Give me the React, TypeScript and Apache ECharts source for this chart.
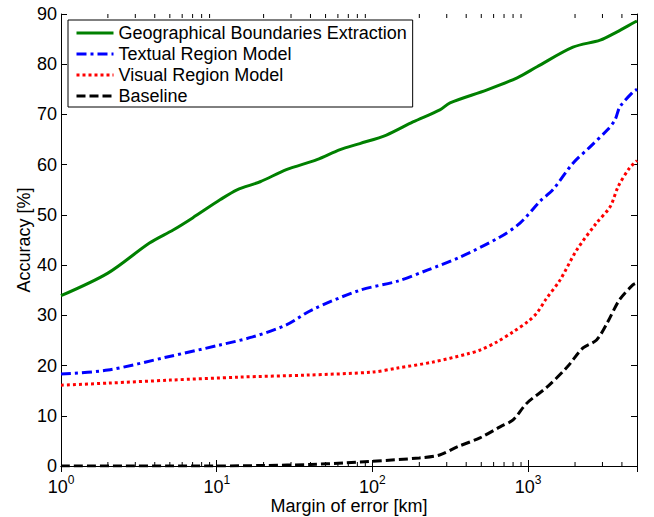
import React, { useEffect, useRef } from "react";
import * as echarts from "echarts";

const seriesNames = [
  "Geographical Boundaries Extraction",
  "Textual Region Model",
  "Visual Region Model",
  "Baseline",
];

const geoX = [1, 2, 3.7, 5.25, 7, 10.5, 13.5, 19, 28, 44, 62, 83, 123, 182, 271, 315, 545, 850, 1140, 1940, 2900, 3700, 4850, 5000];
const geoY = [33.9, 38.4, 44.4, 47, 49.4, 53, 55, 56.6, 59, 61, 63, 64.2, 65.9, 68.5, 70.9, 72.3, 74.9, 77.3, 79.5, 83.4, 84.8, 86.4, 88.4, 88.6];

const textX = [1, 2, 4.8, 10.5, 17, 28, 41, 83, 145, 225, 365, 660, 890, 1190, 1440, 1940, 2490, 3220, 3610, 3880, 4720, 5000];
const textY = [18.3, 19.1, 21.7, 24.1, 25.7, 28.1, 31.1, 35, 36.8, 39, 41.6, 45.6, 48.4, 52.7, 55, 60.3, 63.5, 66.9, 68.9, 71.5, 74.5, 75];

const visX = [1, 2, 5, 14, 38, 100, 145, 245, 405, 493, 630, 800, 1000, 1140, 1300, 1600, 2050, 2750, 3360, 3780, 4470, 5000];
const visY = [16.1, 16.5, 17.1, 17.7, 18.1, 18.7, 19.5, 20.7, 22.3, 23.1, 24.7, 26.7, 28.8, 30.5, 33.2, 37, 43, 48.4, 51.6, 55.6, 59.3, 60.8];

const baseX = [1, 10, 20, 40, 65, 107, 200, 270, 350, 490, 660, 800, 980, 1320, 1780, 2250, 2750, 3220, 3860, 4720, 5000];
const baseY = [0, 0, 0.1, 0.3, 0.6, 1.0, 1.6, 2.2, 3.8, 5.6, 7.8, 9.2, 12.5, 15.7, 19.7, 23.5, 25.1, 28.5, 33.1, 36.1, 36.5];

const minorTicks = [2, 3, 4, 5, 6, 7, 8, 9, 20, 30, 40, 50, 60, 70, 80, 90, 200, 300, 400, 500, 600, 700, 800, 900, 2000, 3000, 4000];

const X_MIN = 1;
const X_MAX = 5000;
const Y_MIN = 0;
const Y_MAX = 90;

const FONT = "Liberation Sans, Arial, Helvetica, sans-serif";

const zip = (xs: number[], ys: number[]) => xs.map((x, i) => [x, ys[i]]);

export default function App() {
  const ref = useRef<HTMLDivElement>(null);
  useEffect(() => {
    if (!ref.current) return;
    const chart = echarts.init(ref.current, undefined, { renderer: "svg" });
    const tickLabel = {
      fontFamily: FONT,
      fontSize: 18,
      color: "#000",
    };
    const lineCommon = {
      type: "line",
      symbol: "none",
      showSymbol: false,
      smooth: 0.3,
    };
    const option: any = {
      animation: false,
      backgroundColor: "#fff",
      grid: { left: 61, right: 17, top: 14, bottom: 51, containLabel: false, outerBoundsMode: "none" },
      legend: {
        data: seriesNames,
        orient: "vertical",
        left: 68,
        top: 20,
        itemWidth: 37,
        itemHeight: 14,
        itemGap: 3,
        padding: [4, 6, 2, 7],
        borderColor: "#000",
        borderWidth: 1,
        borderRadius: 0,
        backgroundColor: "#fff",
        itemStyle: { opacity: 0 },
        lineStyle: { width: 3 },
        textStyle: { fontFamily: FONT, fontSize: 18, color: "#000" },
        selectedMode: false,
      },
      xAxis: [
        {
          type: "log",
          logBase: 10,
          min: X_MIN,
          max: X_MAX,
          position: "bottom",
          axisLine: { lineStyle: { color: "#000", width: 1 } },
          axisTick: { inside: true, length: 6, lineStyle: { color: "#000" } },
          splitLine: { show: false },
          axisLabel: {
            showMaxLabel: false,
            margin: 8,
            formatter: (v: number) => `{b|10}{s|${Math.round(Math.log10(v))}}`,
            rich: {
              b: { ...tickLabel, fontSize: 18, lineHeight: 22, verticalAlign: "bottom" },
              s: { ...tickLabel, fontSize: 12, lineHeight: 12, verticalAlign: "top" },
            },
          },
          name: "Margin of error [km]",
          nameLocation: "middle",
          nameGap: 31,
          nameMoveOverlap: false,
          nameTextStyle: { ...tickLabel, verticalAlign: "top" },
        },
        {
          type: "log",
          logBase: 10,
          min: X_MIN,
          max: X_MAX,
          position: "top",
          axisLine: { lineStyle: { color: "#000", width: 1 } },
          axisTick: { inside: true, length: 6, lineStyle: { color: "#000" } },
          axisLabel: { show: false },
          splitLine: { show: false },
        },
      ],
      yAxis: [
        {
          type: "value",
          min: Y_MIN,
          max: Y_MAX,
          interval: 10,
          position: "left",
          axisLine: { show: true, lineStyle: { color: "#000", width: 1 } },
          axisTick: { show: true, inside: true, length: 6, lineStyle: { color: "#000" } },
          splitLine: { show: false },
          axisLabel: { ...tickLabel, margin: 4 },
          name: "Accuracy [%]",
          nameLocation: "middle",
          nameGap: 28,
          nameMoveOverlap: false,
          nameRotate: 90,
          nameTextStyle: { ...tickLabel },
        },
        {
          type: "value",
          min: Y_MIN,
          max: Y_MAX,
          interval: 10,
          position: "right",
          axisLine: { show: true, lineStyle: { color: "#000", width: 1 } },
          axisTick: { show: true, inside: true, length: 6, lineStyle: { color: "#000" } },
          splitLine: { show: false },
          axisLabel: { show: false },
        },
      ],
      series: [
        {
          ...lineCommon,
          name: seriesNames[0],
          data: zip(geoX, geoY),
          color: "#008000",
          lineStyle: { color: "#008000", width: 3, type: "solid" },
        },
        {
          ...lineCommon,
          name: seriesNames[1],
          data: zip(textX, textY),
          color: "#0000ff",
          lineStyle: { color: "#0000ff", width: 3, type: [10, 4, 3, 4], cap: "butt" },
        },
        {
          ...lineCommon,
          name: seriesNames[2],
          data: zip(visX, visY),
          color: "#ff0000",
          lineStyle: { color: "#ff0000", width: 3, type: [3, 3], cap: "butt" },
        },
        {
          ...lineCommon,
          name: seriesNames[3],
          data: zip(baseX, baseY),
          color: "#000000",
          lineStyle: { color: "#000000", width: 3, type: [9, 4], cap: "butt" },
        },
        {
          name: "minorTicks",
          type: "custom",
          silent: true,
          z: 5,
          data: minorTicks.map((v) => [v, Y_MIN]),
          encode: { x: 0, y: 1 },
          renderItem: (params: any, api: any) => {
            const v = api.value(0);
            const b = api.coord([v, Y_MIN]);
            const t = api.coord([v, Y_MAX]);
            return {
              type: "group",
              children: [
                { type: "line", shape: { x1: b[0], y1: b[1], x2: b[0], y2: b[1] - 4 }, style: { stroke: "#000", lineWidth: 1 } },
                { type: "line", shape: { x1: t[0], y1: t[1], x2: t[0], y2: t[1] + 4 }, style: { stroke: "#000", lineWidth: 1 } },
              ],
            };
          },
        },
      ],
    };
    chart.setOption(option);
    return () => chart.dispose();
  }, []);
  return (
    <div
      ref={ref}
      style={{ position: "fixed", left: 0, top: 0, width: 654, height: 517, background: "#fff" }}
    />
  );
}
